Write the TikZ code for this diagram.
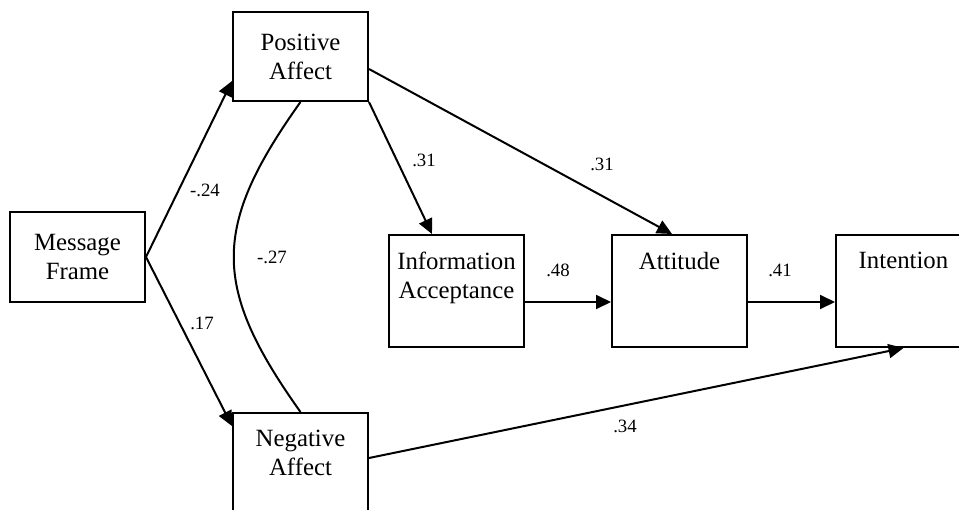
\documentclass[tikz,border=0pt]{standalone}
\usepackage{fontspec}
\setmainfont{Liberation Serif}
\usetikzlibrary{arrows.meta, positioning, calc}
\tikzset{
  every picture/.style={line width=1pt},
  box/.style={draw, rectangle, minimum width=67.5pt, minimum height=#1, inner sep=0pt, align=center, font=\fontsize{12.4}{14.5}\selectfont},
  box/.default=56pt,
  boxtext/.style={anchor=north, inner sep=0pt, align=center, font=\fontsize{12.4}{14.5}\selectfont},
  arrow/.style={-{Triangle[length=7.5pt, width=7pt]}},
  coef/.style={font=\fontsize{9.4}{11}\selectfont, inner sep=1pt},
}
\begin{document}
\begin{tikzpicture}[x=0.5pt, y=-0.5pt]
  \clip (0,0) rectangle (959,509);
  \node[box=45pt] (msg) at (77.5,257) {Message\\Frame};
  \node[box=44.5pt] (pos) at (300.5,56.5) {Positive\\Affect};
  \node[box] (neg) at (300.5,469) {};
  \node[box] (info) at (456.5,291) {};
  \node[box] (att) at (679.5,291) {};
  \node[box] (int) at (903.5,291) {};
  \node[boxtext] (negtxt) at ([yshift=-8.5pt]neg.north) {Negative\\Affect};
  \node[boxtext] (infotxt) at ([yshift=-8.5pt]info.north) {Information\\Acceptance};
  \node[boxtext] (atttxt) at ([yshift=-8.5pt]att.north) {Attitude};
  \node[boxtext] (inttxt) at ([yshift=-8.5pt]int.north) {Intention};
  % paths
  \draw[arrow] (msg.east) -- ([yshift=10.5pt]pos.south west);
  \draw[arrow] (msg.east) -- ([yshift=-7pt]neg.north west);
  \draw (pos.south) .. controls +(-44.5pt,-62.5pt) and +(-44.5pt,62.5pt) .. (neg.north);
  \draw[arrow] (pos.south east) -- ([xshift=22pt]info.north west);
  \draw[arrow] ([yshift=-6.25pt]pos.east) -- ([xshift=-3.75pt]att.north);
  \draw[arrow] ([yshift=-5.5pt]info.east) -- ([yshift=-5.5pt]att.west);
  \draw[arrow] ([yshift=-5.5pt]att.east) -- ([yshift=-5.5pt]int.west);
  \draw[arrow] ([yshift=5.5pt]neg.east) -- (int.south);
  % coefficients
  \node[coef] (cmp) at (205,190) {-.24};
  \node[coef] (cmn) at (202,323) {.17};
  \node[coef] (cpn) at (272,257) {-.27};
  \node[coef] (cpi) at (424,160) {.31};
  \node[coef] (cpa) at (602,164) {.31};
  \node[coef] (cia) at (558,270) {.48};
  \node[coef] (cai) at (780,270) {.41};
  \node[coef] (cni) at (625,426) {.34};
\end{tikzpicture}
\end{document}
